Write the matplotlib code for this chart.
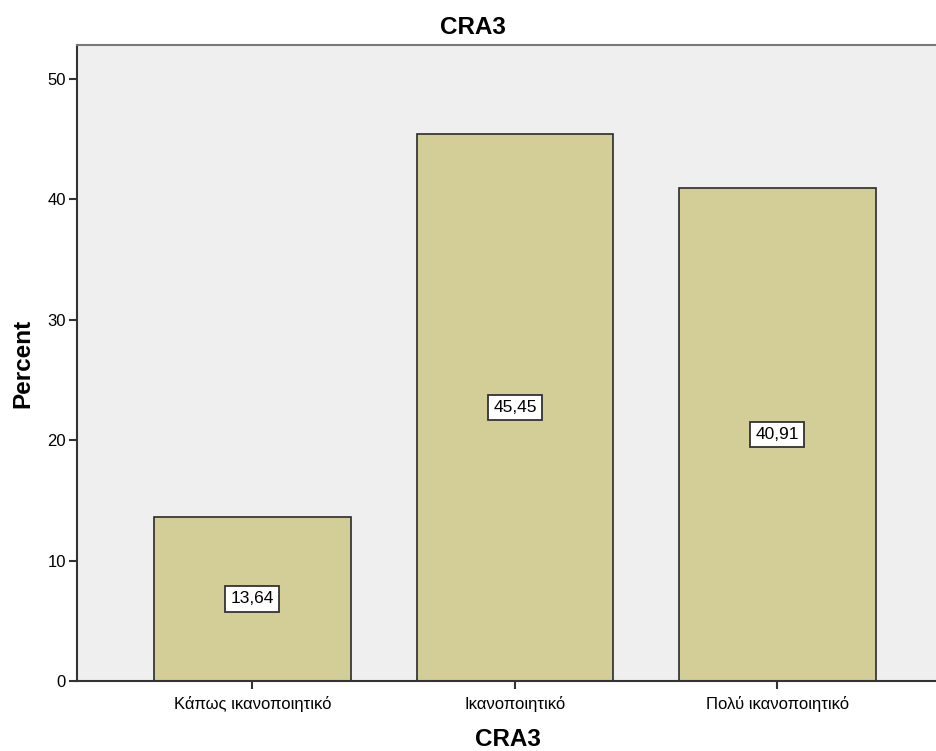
import matplotlib.pyplot as plt

# Данные
categories = ['Κάπως ικανοποιητικό', 'Ικανοποιητικό', 'Πολύ ικανοποιητικό']
percent = [13.64, 45.45, 40.91]
value_labels = ['13,64', '45,45', '40,91']

plt.rcParams['font.family'] = ['Liberation Sans', 'DejaVu Sans']

fig = plt.figure(figsize=(9.37, 7.51), dpi=100)
ax = fig.add_axes([77 / 937, 70 / 751, 1 - 77 / 937 + 0.002, (681 - 45) / 751])
ax.set_facecolor('#efefef')

x = range(len(categories))
ax.bar(x, percent, width=0.748, color='#d3ce97', edgecolor='#2b2b2b', linewidth=1.2, zorder=2)

# Подписи значений в центре столбцов
for xi, v, lab in zip(x, percent, value_labels):
    ax.text(xi, v / 2, lab, ha='center', va='center', fontsize=12.5, zorder=3,
            bbox=dict(boxstyle='square,pad=0.3', facecolor='white', edgecolor='#333333', linewidth=1.3))

ax.set_xlim(-0.668, 2.615)
ax.set_ylim(0, 52.8)
ax.set_xticks(list(x))
ax.set_xticklabels(categories, fontsize=12)
ax.set_yticks(range(0, 51, 10))
ax.tick_params(axis='y', labelsize=12, length=6, width=1.5, color='#333333', pad=2)
ax.tick_params(axis='x', length=6, width=1.5, color='#333333', pad=5)

for side in ['left', 'bottom', 'top']:
    ax.spines[side].set_color('#333333')
    ax.spines[side].set_linewidth(1.5)
ax.spines['right'].set_visible(False)
ax.spines['top'].set_color('#777777')

ax.set_xlabel('CRA3', fontsize=17.5, fontweight='bold', labelpad=11)
ax.set_ylabel('Percent', fontsize=17.5, fontweight='bold', labelpad=9)

# Заголовок по центру всей фигуры
fig.text(473 / 937, 1 - 34 / 751, 'CRA3', ha='center', va='baseline',
         fontsize=17.5, fontweight='bold')

plt.savefig('out.png', dpi=100)
